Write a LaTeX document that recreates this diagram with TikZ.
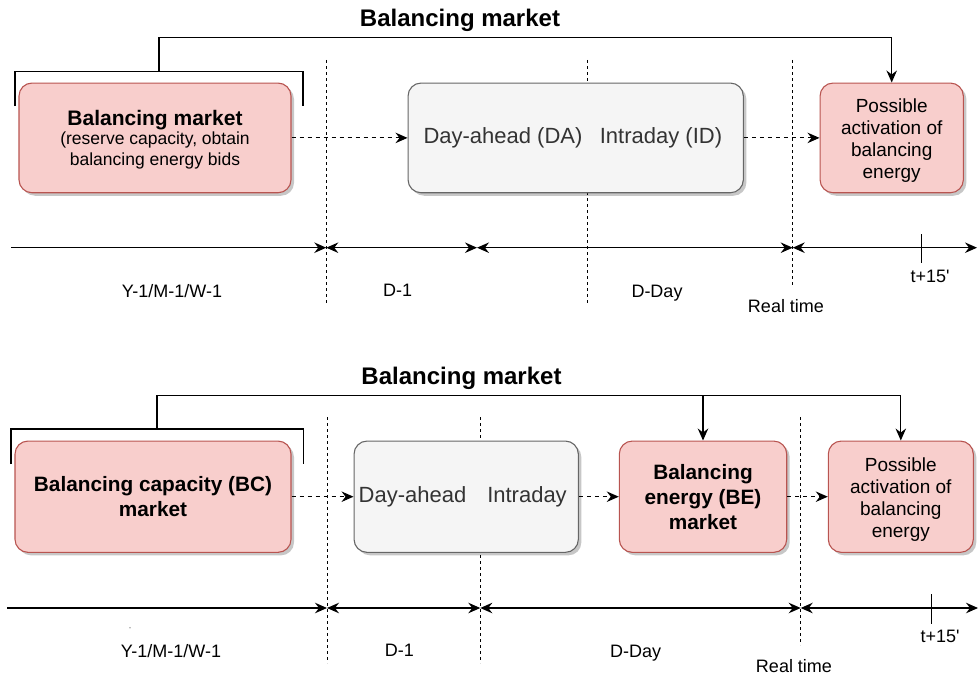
\documentclass[tikz,border=0pt]{standalone}
\usepackage{fontspec}
\setmainfont{Liberation Sans}
\usetikzlibrary{arrows.meta,shadows}
\definecolor{redfill}{HTML}{F8CECC}
\definecolor{redline}{HTML}{B85450}
\definecolor{grayfill}{HTML}{F5F5F5}
\definecolor{grayline}{HTML}{666666}
\definecolor{graytext}{HTML}{333333}
\begin{document}
\begin{tikzpicture}[x=1pt,y=-1pt,
  >={Stealth[length=12pt,width=10.5pt,inset=4pt]},
  boxbase/.style={rounded corners=13pt, line width=1.1pt, inner sep=0pt, align=center,
    minimum height=109.7pt,
    drop shadow={shadow xshift=3pt,shadow yshift=-3pt,fill=black,opacity=0.22}},
  redbox/.style={boxbase, draw=redline, fill=redfill},
  graybox/.style={boxbase, draw=grayline, fill=grayfill},
  solidarr/.style={line width=1.2pt, ->},
  dasharr/.style={line width=1.1pt, dash pattern=on 4pt off 4pt, ->},
  bracket/.style={line width=1.2pt},
  vdash/.style={line width=1pt, dash pattern=on 3pt off 3pt},
  tline/.style={line width=1.2pt},
  lab/.style={inner sep=0pt, font=\fontsize{18}{21}\selectfont},
  title/.style={inner sep=0pt, font=\fontsize{24}{28}\selectfont\bfseries},
  poss/.style={inner sep=0pt, align=center, font=\fontsize{19}{22}\selectfont},
  boldtxt/.style={font=\fontsize{20.8}{25}\selectfont\bfseries},
  graytxt/.style={inner sep=0pt, text=graytext, font=\fontsize{22}{26}\selectfont}
]
\useasboundingbox (0,0) rectangle (979,677);

%%%%%%%%%%%%%%%% TOP DIAGRAM %%%%%%%%%%%%%%%%
\node[title] (title1) at (460,20) {Balancing market};

% vertical dashed separators
\coordinate (v1a) at (326.3,60);  \coordinate (v1b) at (326.3,302.7);
\coordinate (v2a) at (587,60);    \coordinate (v2b) at (587,302.7);
\coordinate (v3a) at (792.7,60);  \coordinate (v3b) at (792.7,285);
\draw[vdash] (v1a) -- (v1b);
\draw[vdash] (v2a) -- (v2b);
\draw[vdash] (v3a) -- (v3b);

\node[redbox, minimum width=272pt] (bm1) at (155,137.9) {};
\node[inner sep=0pt, align=center, font=\fontsize{17.5}{20.5}\selectfont] (bm1t) at (155,139.5)
  {{\fontsize{21}{25}\selectfont\bfseries Balancing market}\\[-1pt]
   (reserve capacity, obtain\\balancing energy bids};
\node[graybox, minimum width=335.3pt] (da1) at (575.7,137.9) {};
\node[graytxt] (da1t) at (503,138) {Day-ahead (DA)};
\node[graytxt] (id1t) at (661,138) {Intraday (ID)};
\node[redbox, minimum width=143.3pt] (pa1) at (891.7,137.9) {};
\node[poss] (pa1t) at (891.7,141)
  {Possible\\activation of\\balancing\\energy};

% bracket and top connector
\coordinate (br1l) at (15,106);   \coordinate (br1lt) at (15,71.7);
\coordinate (br1r) at (303,106);  \coordinate (br1rt) at (303,71.7);
\coordinate (br1m) at (159,71.7); \coordinate (top1) at (159,37.7);
\draw[bracket] (br1l) -- (br1lt) -- (br1rt) -- (br1r);
\draw[solidarr] (br1m) -- (top1) -| (pa1.north);

\draw[dasharr] (bm1.east) -- (da1.west);
\draw[dasharr] (da1.east) -- (pa1.west);

% timeline
\coordinate (t1a) at (11,247.7);  \coordinate (t1b) at (326.3,247.7);
\coordinate (t1c) at (477,247.7); \coordinate (t1d) at (792.7,247.7);
\coordinate (t1e) at (977,247.7);
\draw[tline,->] (t1a) -- (t1b);
\draw[tline,<->] (t1b) -- (t1c);
\draw[tline,<->] (t1c) -- (t1d);
\draw[tline,<->] (t1d) -- (t1e);
\coordinate (k1a) at (921.7,234.3); \coordinate (k1b) at (921.7,263.3);
\draw[tline] (k1a) -- (k1b);

\node[lab] (l1a) at (172,290.7) {Y-1/M-1/W-1};
\node[lab] (l1b) at (397.7,290.7) {D-1};
\node[lab] (l1c) at (657,293.5) {D-Day};
\node[lab] (l1d) at (786,306) {Real time};
\node[lab] (l1e) at (930,276.7) {t+15\textquotesingle};

%%%%%%%%%%%%%%%% BOTTOM DIAGRAM %%%%%%%%%%%%%%%%
\node[title] (title2) at (461.5,378) {Balancing market};

\coordinate (w1a) at (327,417);   \coordinate (w1b) at (327,663);
\coordinate (w2a) at (480.3,417); \coordinate (w2b) at (480.3,663);
\coordinate (w3a) at (800.7,417); \coordinate (w3b) at (800.7,645);
\draw[vdash] (w1a) -- (w1b);
\draw[vdash] (w2a) -- (w2b);
\draw[vdash] (w3a) -- (w3b);

\node[redbox, boldtxt, minimum width=276pt, minimum height=111.3pt] (bc2) at (153,496.7)
  {Balancing capacity (BC)\\market};
\node[graybox, minimum width=224.3pt, minimum height=111.3pt] (da2) at (466.2,496.7) {};
\node[graytxt] (da2t) at (412.5,496.7) {Day-ahead};
\node[graytxt] (id2t) at (527,496.7) {Intraday};
\node[redbox, boldtxt, minimum width=167.4pt, minimum height=111.3pt] (be2) at (703,496.7)
  {Balancing\\energy (BE)\\market};
\node[redbox, minimum width=145pt, minimum height=111.3pt] (pa2) at (900.8,496.7) {};
\node[poss] (pa2t) at (900.8,499.5)
  {Possible\\activation of\\balancing\\energy};

\coordinate (br2l) at (11,464);    \coordinate (br2lt) at (11,429);
\coordinate (br2r) at (303.7,464); \coordinate (br2rt) at (303.7,429);
\coordinate (br2m) at (157,429);   \coordinate (top2) at (157,395.3);
\draw[bracket] (br2l) -- (br2lt) -- (br2rt) -- (br2r);
\draw[solidarr] (br2m) -- (top2) -| (pa2.north);
\draw[solidarr] (top2 -| be2.north) -- (be2.north);

\draw[dasharr] (bc2.east) -- (da2.west);
\draw[dasharr] (da2.east) -- (be2.west);
\draw[dasharr] (be2.east) -- (pa2.west);

\coordinate (t2a) at (7,608);     \coordinate (t2b) at (327,608);
\coordinate (t2c) at (480.3,608); \coordinate (t2d) at (800.7,608);
\coordinate (t2e) at (978,608);
\draw[tline,->] (t2a) -- (t2b);
\draw[tline,<->] (t2b) -- (t2c);
\draw[tline,<->] (t2c) -- (t2d);
\draw[tline,<->] (t2d) -- (t2e);
\coordinate (k2a) at (931.7,594); \coordinate (k2b) at (931.7,624.3);
\draw[tline] (k2a) -- (k2b);
\fill[gray!70] (130,627.7) circle (0.8pt);

\node[lab] (l2a) at (171,650.7) {Y-1/M-1/W-1};
\node[lab] (l2b) at (399.3,650.7) {D-1};
\node[lab] (l2c) at (635.7,653) {D-Day};
\node[lab] (l2d) at (794,666) {Real time};
\node[lab] (l2e) at (940,636.7) {t+15\textquotesingle};
\end{tikzpicture}
\end{document}
